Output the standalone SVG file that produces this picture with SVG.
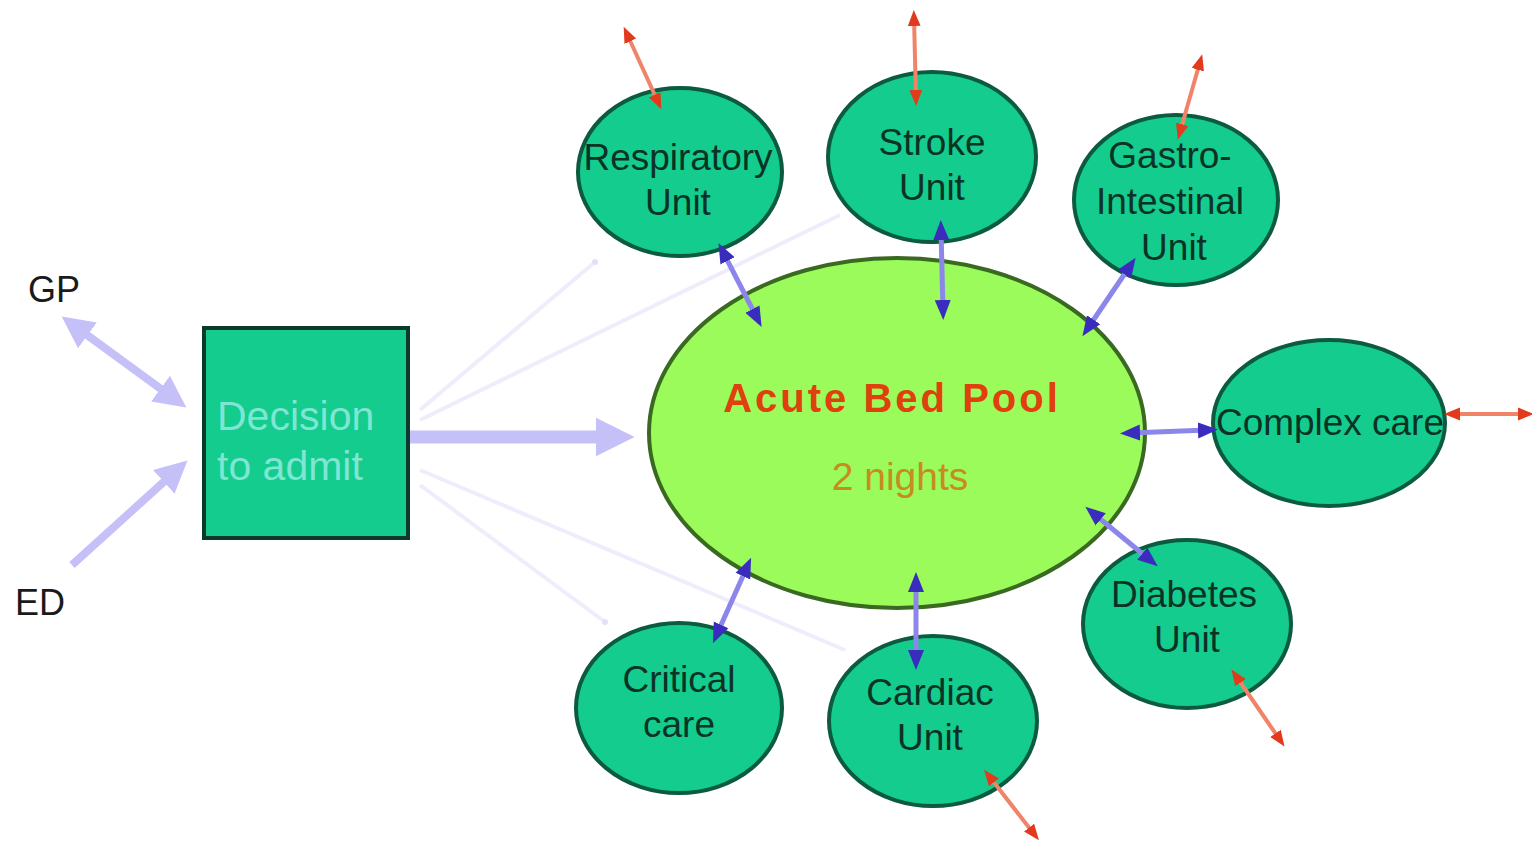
<svg xmlns="http://www.w3.org/2000/svg" width="1532" height="841" viewBox="0 0 1532 841">
<style>
.unit{fill:#14cc8e;stroke:#0c5a40;stroke-width:4}
.ut{font-family:"Liberation Sans",Arial,sans-serif;font-size:37px;fill:#0a3326;text-anchor:middle}
.blue{stroke:#8c86ea;stroke-width:5;fill:none;marker-start:url(#bh);marker-end:url(#bh)}
.red{stroke:#f08468;stroke-width:4;fill:none;marker-start:url(#rh);marker-end:url(#rh)}
.faint{stroke:#efedfc;stroke-width:4;fill:none}
.lav{stroke:#c6c0f8;fill:none}
.lbl{font-family:"Liberation Sans",Arial,sans-serif;font-size:36px;fill:#1a1a1a}
</style>
<defs>
<marker id="bh" viewBox="0 0 10 10" refX="5" refY="5" markerWidth="4" markerHeight="4" orient="auto-start-reverse" markerUnits="strokeWidth"><path d="M0,1 L10,5 L0,9 z" fill="#3a2cbc"/></marker>
<marker id="rh" viewBox="0 0 10 10" refX="5" refY="5" markerWidth="4" markerHeight="4" orient="auto-start-reverse" markerUnits="strokeWidth"><path d="M0,1 L10,5 L0,9 z" fill="#e23a1c"/></marker>
<marker id="lh" viewBox="0 0 10 10" refX="6" refY="5" markerWidth="4" markerHeight="4" orient="auto-start-reverse" markerUnits="strokeWidth"><path d="M0,0 L10,5 L0,10 z" fill="#c6c0f8"/></marker>
<marker id="lh2" viewBox="0 0 10 10" refX="6" refY="5" markerWidth="3" markerHeight="3.2" orient="auto-start-reverse" markerUnits="strokeWidth"><path d="M0,0 L10,5 L0,10 z" fill="#c6c0f8"/></marker>
</defs>
<rect width="1532" height="841" fill="#ffffff"/>
<g id="connectors">
<line class="faint" x1="420" y1="410" x2="595" y2="262"/>
<line class="faint" x1="420" y1="420" x2="840" y2="215"/>
<line class="faint" x1="420" y1="485" x2="605" y2="622"/>
<line class="faint" x1="420" y1="470" x2="845" y2="650"/>
<circle cx="595" cy="262" r="3" fill="#e4dff8"/>
<circle cx="605" cy="622" r="3" fill="#e4dff8"/>
<line class="lav" stroke-width="13" x1="410" y1="437" x2="619" y2="437" marker-end="url(#lh2)"/>
<line class="lav" stroke-width="8" x1="72" y1="324" x2="176" y2="400" marker-start="url(#lh)" marker-end="url(#lh)"/>
<line class="lav" stroke-width="8" x1="72" y1="565" x2="178" y2="469" marker-end="url(#lh)"/>
</g>
<g id="acute-bed-pool">
<ellipse cx="897" cy="433" rx="248" ry="175" fill="#9bfb5a" stroke="#3a6a22" stroke-width="4"/>
<text x="892" y="412" font-family="Liberation Sans,Arial,sans-serif" font-size="40" font-weight="bold" letter-spacing="3" fill="#e0400e" text-anchor="middle">Acute Bed Pool</text>
<text x="900" y="490" font-family="Liberation Sans,Arial,sans-serif" font-size="39" fill="#c88a22" text-anchor="middle">2 nights</text>
</g>
<g id="decision-to-admit">
<rect x="204" y="328" width="204" height="210" fill="#14cc8e" stroke="#0b3a2a" stroke-width="4"/>
<text font-family="Liberation Sans,Arial,sans-serif" font-size="41" fill="#7ee6d2"><tspan x="217" y="430">Decision</tspan><tspan x="217" y="480">to admit</tspan></text>
</g>
<g id="gp"><text class="lbl" x="28" y="302">GP</text></g>
<g id="ed"><text class="lbl" x="15" y="615">ED</text></g>
<g id="respiratory-unit">
<ellipse class="unit" cx="680" cy="172" rx="102" ry="84"/>
<text class="ut"><tspan x="678" y="170">Respiratory</tspan><tspan x="678" y="215">Unit</tspan></text>
</g>
<g id="stroke-unit">
<ellipse class="unit" cx="932" cy="157" rx="104" ry="85"/>
<text class="ut"><tspan x="932" y="155">Stroke</tspan><tspan x="932" y="200">Unit</tspan></text>
</g>
<g id="gastro-intestinal-unit">
<ellipse class="unit" cx="1176" cy="200" rx="102" ry="85"/>
<text class="ut"><tspan x="1170" y="168">Gastro-</tspan><tspan x="1170" y="214">Intestinal</tspan><tspan x="1174" y="260">Unit</tspan></text>
</g>
<g id="complex-care">
<ellipse class="unit" cx="1329" cy="423" rx="116" ry="83"/>
<text class="ut" x="1330" y="435" textLength="228" lengthAdjust="spacingAndGlyphs">Complex care</text>
</g>
<g id="diabetes-unit">
<ellipse class="unit" cx="1187" cy="624" rx="104" ry="84"/>
<text class="ut"><tspan x="1184" y="607">Diabetes</tspan><tspan x="1187" y="652">Unit</tspan></text>
</g>
<g id="cardiac-unit">
<ellipse class="unit" cx="933" cy="721" rx="104" ry="85"/>
<text class="ut"><tspan x="930" y="705">Cardiac</tspan><tspan x="930" y="750">Unit</tspan></text>
</g>
<g id="critical-care">
<ellipse class="unit" cx="679" cy="708" rx="103" ry="85"/>
<text class="ut"><tspan x="679" y="692">Critical</tspan><tspan x="679" y="737">care</tspan></text>
</g>
<g id="connectors-units">
<line class="blue" x1="723" y1="252" x2="757" y2="318"/>
<line class="blue" x1="941" y1="230" x2="943" y2="310"/>
<line class="blue" x1="1130" y1="266" x2="1088" y2="328"/>
<line class="blue" x1="1130" y1="433" x2="1208" y2="430"/>
<line class="blue" x1="1093" y1="513" x2="1150" y2="560"/>
<line class="blue" x1="916" y1="582" x2="916" y2="660"/>
<line class="blue" x1="747" y1="567" x2="717" y2="634"/>
<line class="red" x1="658" y1="102" x2="627" y2="34"/>
<line class="red" x1="916" y1="98" x2="914" y2="18"/>
<line class="red" x1="1180" y1="132" x2="1200" y2="62"/>
<line class="red" x1="1452" y1="414" x2="1526" y2="414"/>
<line class="red" x1="1236" y1="676" x2="1280" y2="740"/>
<line class="red" x1="989" y1="776" x2="1034" y2="834"/>
</g>
</svg>
